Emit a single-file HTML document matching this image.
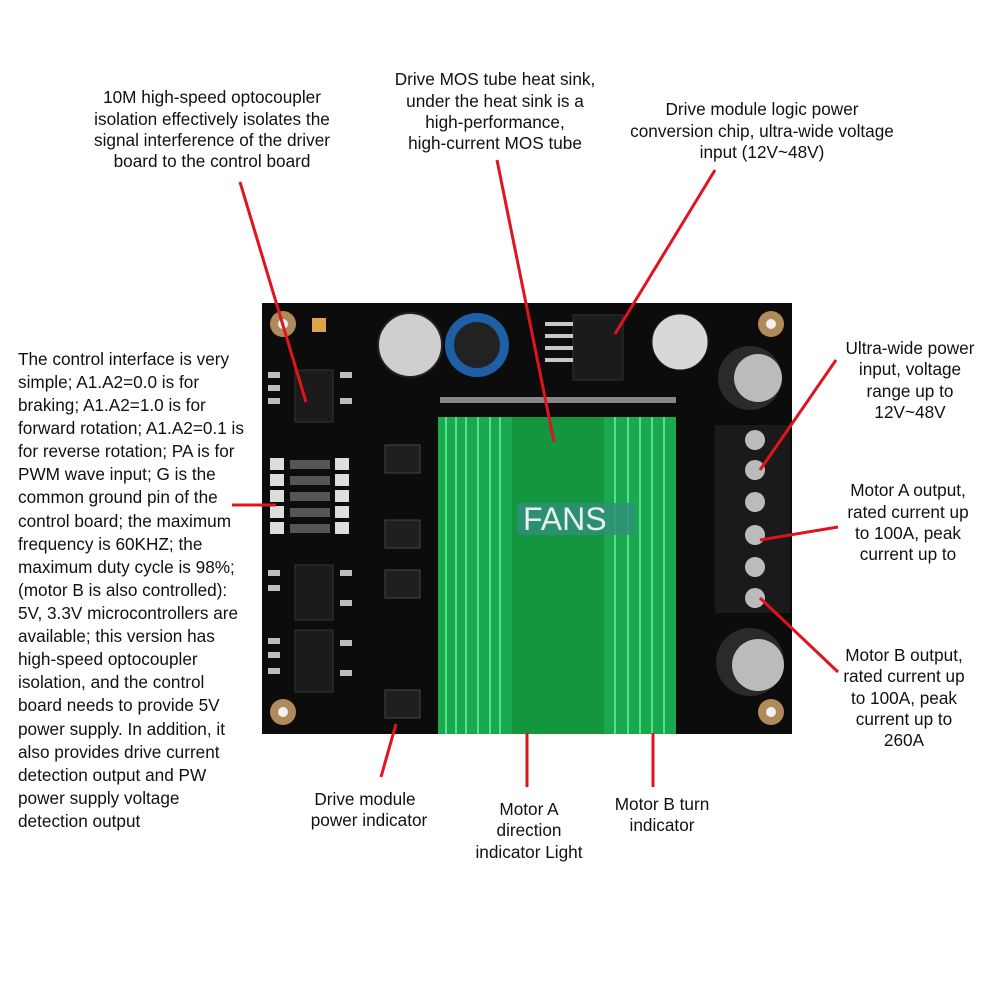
<!DOCTYPE html>
<html><head><meta charset="utf-8"><style>
html,body{margin:0;padding:0;background:#fff;}
svg{display:block}
text{font-family:"Liberation Sans","Noto Sans CJK SC",sans-serif;font-size:17.2px;fill:#111}
</style></head><body>
<svg width="1000" height="1000" viewBox="0 0 1000 1000" xmlns="http://www.w3.org/2000/svg">
<rect width="1000" height="1000" fill="#fff"/>
<rect x="262" y="303" width="530" height="431" fill="#0c0c0c"/>
<g fill="#b08a5a"><circle cx="283" cy="324" r="13"/><circle cx="771" cy="324" r="13"/><circle cx="283" cy="712" r="13"/><circle cx="771" cy="712" r="13"/></g>
<g fill="#f0f0f0"><circle cx="283" cy="324" r="5"/><circle cx="771" cy="324" r="5"/><circle cx="283" cy="712" r="5"/><circle cx="771" cy="712" r="5"/></g>
<g fill="#1b1b1b" stroke="#333"><rect x="295" y="370" width="38" height="52"/><rect x="295" y="565" width="38" height="55"/><rect x="295" y="630" width="38" height="62"/><rect x="573" y="315" width="50" height="65"/></g>
<g fill="#c8c8c8"><rect x="545" y="322" width="28" height="4"/><rect x="545" y="334" width="28" height="4"/><rect x="545" y="346" width="28" height="4"/><rect x="545" y="358" width="28" height="4"/></g>
<g fill="#bdbdbd"><rect x="268" y="372" width="12" height="6"/><rect x="268" y="385" width="12" height="6"/><rect x="268" y="398" width="12" height="6"/><rect x="268" y="570" width="12" height="6"/><rect x="268" y="585" width="12" height="6"/><rect x="268" y="638" width="12" height="6"/><rect x="268" y="652" width="12" height="6"/><rect x="268" y="668" width="12" height="6"/><rect x="340" y="372" width="12" height="6"/><rect x="340" y="398" width="12" height="6"/><rect x="340" y="570" width="12" height="6"/><rect x="340" y="600" width="12" height="6"/><rect x="340" y="640" width="12" height="6"/><rect x="340" y="670" width="12" height="6"/></g>
<rect x="312" y="318" width="14" height="14" fill="#d9a44a"/>
<g fill="#ddd"><rect x="270" y="458" width="14" height="12"/><rect x="270" y="474" width="14" height="12"/><rect x="270" y="490" width="14" height="12"/><rect x="270" y="506" width="14" height="12"/><rect x="270" y="522" width="14" height="12"/><rect x="335" y="458" width="14" height="12"/><rect x="335" y="474" width="14" height="12"/><rect x="335" y="490" width="14" height="12"/><rect x="335" y="506" width="14" height="12"/><rect x="335" y="522" width="14" height="12"/></g>
<g fill="#555"><rect x="290" y="460" width="40" height="9"/><rect x="290" y="476" width="40" height="9"/><rect x="290" y="492" width="40" height="9"/><rect x="290" y="508" width="40" height="9"/><rect x="290" y="524" width="40" height="9"/></g>
<g fill="#1f1f1f" stroke="#444"><rect x="385" y="445" width="35" height="28"/><rect x="385" y="520" width="35" height="28"/><rect x="385" y="570" width="35" height="28"/><rect x="385" y="690" width="35" height="28"/></g>
<circle cx="410" cy="345" r="32" fill="#cfcfcf" stroke="#222" stroke-width="2"/>
<circle cx="477" cy="345" r="32" fill="#1f5fa6"/><circle cx="477" cy="345" r="23" fill="#222"/>
<circle cx="680" cy="342" r="28" fill="#d8d8d8" stroke="#222"/>
<circle cx="750" cy="378" r="32" fill="#2a2a2a"/><circle cx="758" cy="378" r="24" fill="#bbb"/>
<circle cx="750" cy="662" r="34" fill="#2a2a2a"/><circle cx="758" cy="665" r="26" fill="#bbb"/>
<path d="M440 400 L676 400" stroke="#888" stroke-width="6"/>
<rect x="438" y="417" width="238" height="317" fill="#1ba84e"/>
<g stroke="#4fe38a" stroke-width="2"><line x1="446" y1="417" x2="446" y2="734"/><line x1="456" y1="417" x2="456" y2="734"/><line x1="466" y1="417" x2="466" y2="734"/><line x1="478" y1="417" x2="478" y2="734"/><line x1="490" y1="417" x2="490" y2="734"/><line x1="500" y1="417" x2="500" y2="734"/><line x1="615" y1="417" x2="615" y2="734"/><line x1="628" y1="417" x2="628" y2="734"/><line x1="640" y1="417" x2="640" y2="734"/><line x1="652" y1="417" x2="652" y2="734"/><line x1="664" y1="417" x2="664" y2="734"/></g>
<rect x="512" y="417" width="92" height="317" fill="#14963f"/>
<rect x="715" y="425" width="75" height="188" fill="#1a1a1a"/>
<g fill="#bbb"><circle cx="755" cy="440" r="10"/><circle cx="755" cy="470" r="10"/><circle cx="755" cy="502" r="10"/><circle cx="755" cy="535" r="10"/><circle cx="755" cy="567" r="10"/><circle cx="755" cy="598" r="10"/></g>
<rect x="517" y="503" width="118" height="32" rx="4" fill="#2f8f7a" opacity="0.85"/>
<text x="523" y="530" style="font-size:32px;fill:#e8f0ee">FANS</text>
<g stroke="#e0141e" stroke-width="3" fill="none"><line x1="240" y1="182" x2="306" y2="402"/><line x1="497" y1="160" x2="554" y2="442"/><line x1="715" y1="170" x2="615" y2="334"/><line x1="232" y1="505" x2="276" y2="505"/><line x1="836" y1="360" x2="760" y2="470"/><line x1="838" y1="527" x2="760" y2="540"/><line x1="838" y1="672" x2="760" y2="598"/><line x1="381" y1="777" x2="396" y2="724"/><line x1="527" y1="787" x2="527" y2="733"/><line x1="653" y1="787" x2="653" y2="733"/></g>
<g text-anchor="middle">
<text x="212" y="103">10M high-speed optocoupler</text><text x="212" y="125">isolation effectively isolates the</text><text x="212" y="146">signal interference of the driver</text><text x="212" y="167">board to the control board</text>
<text x="495" y="85">Drive MOS tube heat sink,</text><text x="495" y="107">under the heat sink is a</text><text x="495" y="128">high-performance,</text><text x="495" y="149">high-current MOS tube</text>
<text x="762" y="115">Drive module logic power</text><text x="762" y="137">conversion chip, ultra-wide voltage</text><text x="762" y="158">input (12V~48V)</text>
<text x="910" y="354">Ultra-wide power</text><text x="910" y="375">input, voltage</text><text x="910" y="397">range up to</text><text x="910" y="418">12V~48V</text>
<text x="908" y="496">Motor A output,</text><text x="908" y="518">rated current up</text><text x="908" y="539">to 100A, peak</text><text x="908" y="560">current up to</text>
<text x="904" y="661">Motor B output,</text><text x="904" y="682">rated current up</text><text x="904" y="704">to 100A, peak</text><text x="904" y="725">current up to</text><text x="904" y="746">260A</text>
<text x="365" y="805">Drive module</text><text x="369" y="826">power indicator</text>
<text x="529" y="815">Motor A</text><text x="529" y="836">direction</text><text x="529" y="858">indicator Light</text>
<text x="662" y="810">Motor B turn</text><text x="662" y="831">indicator</text>
</g>
<g>
<text x="18" y="365">The control interface is very</text><text x="18" y="388">simple; A1.A2=0.0 is for</text><text x="18" y="411">braking; A1.A2=1.0 is for</text><text x="18" y="434">forward rotation; A1.A2=0.1 is</text><text x="18" y="457">for reverse rotation; PA is for</text><text x="18" y="480">PWM wave input; G is the</text><text x="18" y="503">common ground pin of the</text><text x="18" y="527">control board; the maximum</text><text x="18" y="550">frequency is 60KHZ; the</text><text x="18" y="573">maximum duty cycle is 98%;</text><text x="18" y="596">(motor B is also controlled):</text><text x="18" y="619">5V, 3.3V microcontrollers are</text><text x="18" y="642">available; this version has</text><text x="18" y="665">high-speed optocoupler</text><text x="18" y="688">isolation, and the control</text><text x="18" y="711">board needs to provide 5V</text><text x="18" y="735">power supply. In addition, it</text><text x="18" y="758">also provides drive current</text><text x="18" y="781">detection output and PW</text><text x="18" y="804">power supply voltage</text><text x="18" y="827">detection output</text>
</g>
</svg>
</body></html>
